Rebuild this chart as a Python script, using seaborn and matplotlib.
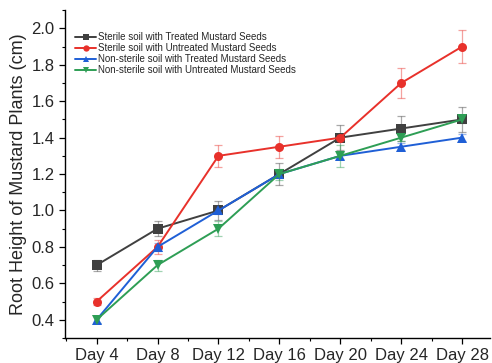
"""
Root height of mustard plants over time for different soil/seed treatments
"""

import matplotlib.pyplot as plt
import pandas as pd
import seaborn as sns
from matplotlib.ticker import AutoMinorLocator

DAYS = ["Day 4", "Day 8", "Day 12", "Day 16", "Day 20", "Day 24", "Day 28"]

SERIES = [
    "Sterile soil with Treated Mustard Seeds",
    "Sterile soil with Untreated Mustard Seeds",
    "Non-sterile soil with Treated Mustard Seeds",
    "Non-sterile soil with Untreated Mustard Seeds",
]

sterile_treated = [0.70, 0.90, 1.00, 1.20, 1.40, 1.45, 1.50]
sterile_untreated = [0.50, 0.80, 1.30, 1.35, 1.40, 1.70, 1.90]
nonsterile_treated = [0.40, 0.80, 1.00, 1.20, 1.30, 1.35, 1.40]
nonsterile_untreated = [0.40, 0.70, 0.90, 1.20, 1.30, 1.40, 1.50]

sterile_treated_err = [0.03, 0.04, 0.05, 0.06, 0.07, 0.07, 0.07]
sterile_untreated_err = [0.02, 0.04, 0.06, 0.06, 0.02, 0.08, 0.09]
nonsterile_treated_err = [0.02, 0.02, 0.02, 0.02, 0.02, 0.02, 0.02]
nonsterile_untreated_err = [0.02, 0.03, 0.04, 0.03, 0.06, 0.02, 0.02]

COLORS = ["#404040", "#e8312b", "#1f5fd6", "#2e9e55"]
MARKERS = ["s", "o", "^", "v"]

values = [sterile_treated, sterile_untreated, nonsterile_treated, nonsterile_untreated]
errors = [sterile_treated_err, sterile_untreated_err, nonsterile_treated_err,
          nonsterile_untreated_err]

rows = []
for name, vals, errs in zip(SERIES, values, errors):
    for i, (v, e) in enumerate(zip(vals, errs)):
        rows.append({"series": name, "x": i, "day": DAYS[i], "height": v, "err": e})
df = pd.DataFrame(rows)

sns.set_style("ticks")
plt.rcParams["font.family"] = ["Liberation Sans", "DejaVu Sans"]

fig, ax = plt.subplots(figsize=(4.92, 3.63), dpi=100)
fig.subplots_adjust(left=0.132, right=0.995, bottom=0.069, top=0.972)

for name, color in zip(SERIES, COLORS):
    sub = df[df["series"] == name]
    ax.errorbar(sub["x"], sub["height"], yerr=sub["err"], fmt="none",
                ecolor=color, alpha=0.45, elinewidth=0.9, capsize=3, capthick=0.9,
                zorder=1)

sns.lineplot(data=df, x="x", y="height", hue="series", style="series",
             hue_order=SERIES, style_order=SERIES, palette=COLORS,
             markers=MARKERS, dashes=False, markersize=6.5, markeredgewidth=0,
             linewidth=1.4, ax=ax, zorder=2)

ax.set_xlim(-0.52, 6.45)
ax.set_ylim(0.3, 2.1)
ax.set_xticks(range(len(DAYS)))
ax.set_xticklabels(DAYS)
ax.set_yticks([0.4, 0.6, 0.8, 1.0, 1.2, 1.4, 1.6, 1.8, 2.0])
ax.xaxis.set_minor_locator(AutoMinorLocator(2))
ax.yaxis.set_minor_locator(AutoMinorLocator(2))
ax.tick_params(axis="both", which="major", labelsize=12, length=4, width=0.9,
               color="black")
ax.tick_params(axis="both", which="minor", length=2.5, width=0.8, color="black")
ax.set_xlabel(None)
ax.set_ylabel("Root Height of Mustard Plants (cm)", fontsize=13, labelpad=3)
sns.despine(ax=ax)
for side in ("left", "bottom"):
    ax.spines[side].set_linewidth(1.0)
    ax.spines[side].set_color("black")

ax.legend(title=None, loc="upper left", bbox_to_anchor=(0.01, 0.95),
          frameon=False, fontsize=7, handlelength=2.2, handletextpad=0.2,
          labelspacing=0.1, borderaxespad=0.2, markerscale=0.7)

fig.savefig("out.png", dpi=100)
